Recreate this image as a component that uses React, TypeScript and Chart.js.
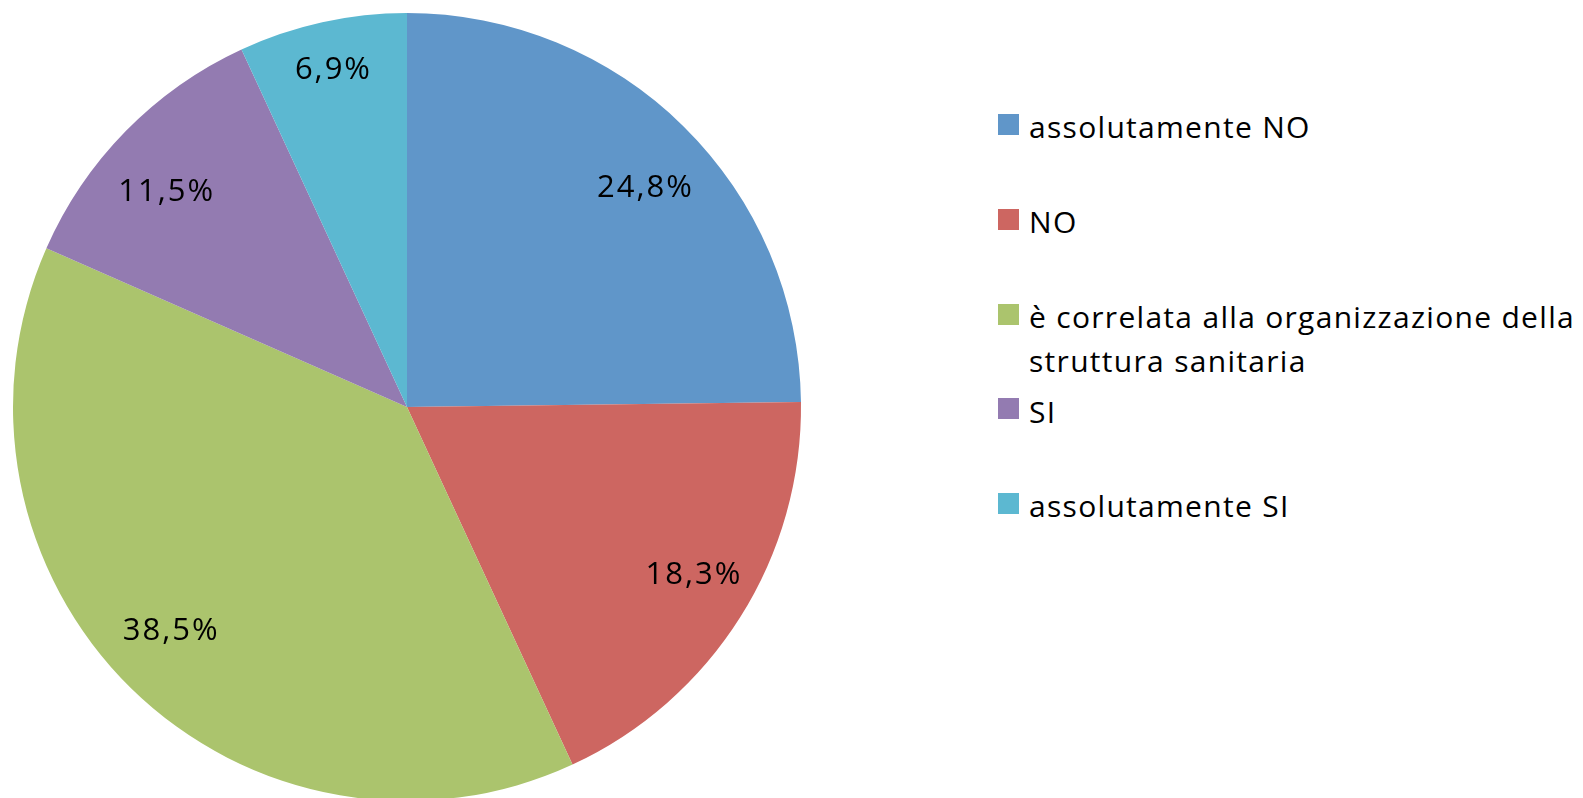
import React, { useEffect, useRef } from "react";
import { Chart, registerables } from "chart.js";

Chart.register(...registerables);

const categories: (string | string[])[] = [
  "assolutamente NO",
  "NO",
  ["è correlata alla organizzazione della", "struttura sanitaria"],
  "SI",
  "assolutamente SI",
];
const values: number[] = [24.8, 18.3, 38.5, 11.5, 6.9];
const valueLabels: string[] = ["24,8%", "18,3%", "38,5%", "11,5%", "6,9%"];
const colors: string[] = ["#6096c9", "#cd6661", "#abc46d", "#937bb1", "#5cb8d1"];

const FONT = "'Open Sans', 'Noto Sans', sans-serif";

const labelPlugin = {
  id: "sliceLabels",
  afterDatasetsDraw(chart: any) {
    const ctx = chart.ctx as CanvasRenderingContext2D;
    const meta = chart.getDatasetMeta(0);
    ctx.save();
    ctx.fillStyle = "#000";
    ctx.font = `31px ${FONT}`;
    (ctx as any).letterSpacing = "2px";
    ctx.textAlign = "center";
    ctx.textBaseline = "alphabetic";
    meta.data.forEach((arc: any, i: number) => {
      const p = arc.getProps(["x", "y", "startAngle", "endAngle", "outerRadius"], true);
      const mid = (p.startAngle + p.endAngle) / 2;
      const small = values[i] < 10;
      const rx = p.outerRadius * (small ? 0.88 : 0.858);
      const ry = p.outerRadius * (small ? 0.88 : 0.788);
      const x = p.x + Math.cos(mid) * rx;
      const y = p.y + Math.sin(mid) * ry;
      ctx.fillText(valueLabels[i], x + 1, y + 11);
    });
    ctx.restore();
  },
};

export default function App() {
  const canvasRef = useRef<HTMLCanvasElement | null>(null);

  useEffect(() => {
    if (!canvasRef.current) return;
    const chart = new Chart(canvasRef.current, {
      type: "pie",
      data: {
        labels: categories as any,
        datasets: [
          {
            data: values,
            backgroundColor: colors,
            borderWidth: 0,
            hoverOffset: 0,
          },
        ],
      },
      options: {
        responsive: false,
        animation: false,
        layout: { padding: 13 },
        plugins: {
          legend: { display: false },
          tooltip: { enabled: false },
        },
      },
      plugins: [labelPlugin],
    });
    return () => chart.destroy();
  }, []);

  const itemTop = (i: number) => 114 + i * 94.75;

  return (
    <div
      style={{
        position: "fixed",
        left: 0,
        top: 0,
        width: 1583,
        height: 798,
        overflow: "hidden",
        background: "#ffffff",
        fontFamily: FONT,
      }}
    >
      <canvas
        ref={canvasRef}
        width={814}
        height={814}
        style={{ position: "absolute", left: 0, top: 0, width: 814, height: 814 }}
      />
      {categories.map((c, i) => {
        const lines = Array.isArray(c) ? c : [c];
        const top = itemTop(i);
        return (
          <div key={i}>
            <div
              style={{
                position: "absolute",
                left: 998,
                top: top,
                width: 21,
                height: 21,
                background: colors[i],
              }}
            />
            <div
              style={{
                position: "absolute",
                left: 1029,
                top: top - 8.6,
                fontSize: 30,
                lineHeight: "44px",
                letterSpacing: "1.3px",
                color: "#000",
                whiteSpace: "nowrap",
              }}
            >
              {lines.map((l, j) => (
                <div key={j}>{l}</div>
              ))}
            </div>
          </div>
        );
      })}
    </div>
  );
}
